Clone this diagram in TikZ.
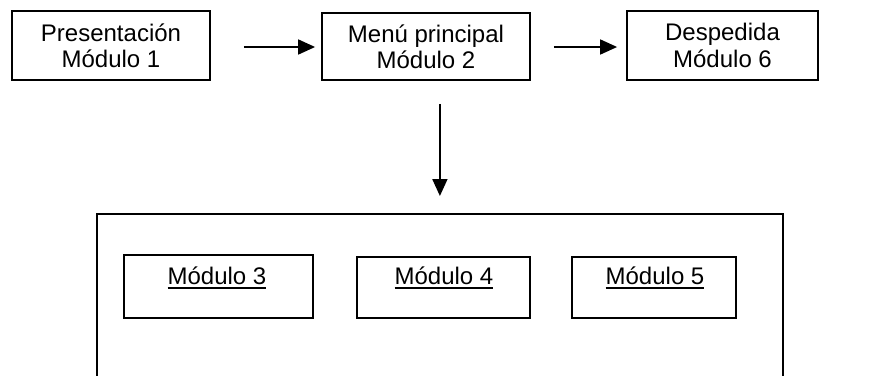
\documentclass[tikz,border=0pt]{standalone}
\usepackage{fontspec}
\setmainfont{Liberation Sans}
\usetikzlibrary{arrows.meta}
% underlined text with a rule slightly below the baseline
\newcommand{\ulword}[1]{\setbox0\hbox{#1}\rlap{\vrule height -1.1pt depth 1.9pt width \wd0}\box0}
\tikzset{
  box/.style={draw, line width=0.9pt, inner sep=0pt, align=center,
    font=\fontsize{12}{13.2}\selectfont},
  lbl/.style={inner sep=0pt, font=\fontsize{12}{13.2}\selectfont},
  arr/.style={line width=0.9pt, -{Triangle[length=8.5pt,width=7.5pt]}},
  frame/.style={line width=0.9pt}
}
\begin{document}
\begin{tikzpicture}[x=0.5pt,y=-0.5pt]
\useasboundingbox (0,0) rectangle (876,375);
% top row of modules
\node[box, minimum width=99pt,  minimum height=34.5pt] (b1) at (111,45.5) {Presentación\\Módulo 1};
\node[box, minimum width=104pt, minimum height=33.5pt] (b2) at (426,46.5) {Menú principal\\Módulo 2};
\node[box, minimum width=95.5pt, minimum height=34.5pt] (b6) at (722.5,45.5) {Despedida\\Módulo 6};
% enclosing area of the sub-modules (open at the bottom)
\node[inner sep=0pt, minimum width=342.5pt, minimum height=81pt, anchor=north west] (grp) at (97,214) {};
\draw[frame] (grp.south west) -- (grp.north west) -- (grp.north east) -- (grp.south east);
% sub-modules
\node[box, minimum width=94.5pt, minimum height=31.5pt] (m3) at (218.5,286.5) {};
\node[box, minimum width=86.5pt, minimum height=30.5pt] (m4) at (443.5,287.5) {};
\node[box, minimum width=82pt,   minimum height=30.5pt] (m5) at (654,287.5) {};
\node[lbl] (t3) at (217,278) {\ulword{Módulo 3}};
\node[lbl] (t4) at (444,278) {\ulword{Módulo 4}};
\node[lbl] (t5) at (655,278) {\ulword{Módulo 5}};
% connectors
\draw[arr, shorten <=16.5pt, shorten >=3pt] (b1.east |- 0,47) -- (b2.west |- 0,47);
\draw[arr, shorten <=11.5pt, shorten >=4.5pt] (b2.east |- 0,47) -- (b6.west |- 0,47);
\draw[arr, shorten <=11.5pt, shorten >=9pt] (b2.south -| grp.north) -- (grp.north);
\end{tikzpicture}
\end{document}
